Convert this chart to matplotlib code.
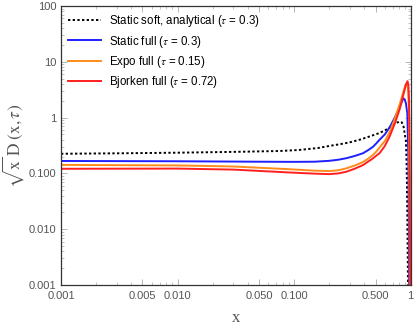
import numpy as np
import matplotlib
matplotlib.use('Agg')
import matplotlib.pyplot as plt
from matplotlib.ticker import FixedLocator, FixedFormatter, LogLocator, NullFormatter

plt.rcParams['font.family'] = ['Liberation Sans', 'DejaVu Sans']
plt.rcParams['mathtext.fontset'] = 'stix'

# static soft, analytical (tau = 0.3)
x_soft = [0.001, 0.003, 0.01, 0.03, 0.075, 0.11, 0.16, 0.2, 0.25, 0.3, 0.37, 0.445, 0.54, 0.6, 0.66, 0.72,
          0.77, 0.805, 0.84, 0.87, 0.89, 0.91, 0.925, 0.935, 0.945, 0.955]
y_soft = [0.225, 0.229, 0.235, 0.243, 0.252, 0.263, 0.285, 0.31, 0.335, 0.36, 0.405, 0.46, 0.53, 0.59,
          0.66, 0.76, 0.82, 0.85, 0.82, 0.68, 0.5, 0.38, 0.12, 0.02, 0.002, 0.0001]

# static full (tau = 0.3)
x_static = [0.001, 0.01, 0.05, 0.1, 0.15, 0.2, 0.24, 0.28, 0.33, 0.39, 0.43, 0.475, 0.51, 0.54, 0.6,
            0.66, 0.73, 0.805, 0.85, 0.87, 0.89, 0.91, 0.935, 0.955, 0.965, 0.975]
y_static = [0.167, 0.165, 0.162, 0.161, 0.162, 0.168, 0.176, 0.187, 0.205, 0.23, 0.26, 0.30, 0.35,
            0.40, 0.50, 0.67, 1.0, 1.55, 2.05, 2.2, 2.1, 1.8, 1.2, 0.2, 0.008, 0.0001]

# expo full (tau = 0.15)
x_expo = [0.001, 0.01, 0.03, 0.09, 0.15, 0.2, 0.24, 0.28, 0.33, 0.39, 0.43, 0.475, 0.51, 0.54, 0.6,
          0.66, 0.73, 0.805, 0.87, 0.9, 0.93, 0.952, 0.967, 0.977, 0.987]
y_expo = [0.142, 0.139, 0.133, 0.119, 0.112, 0.110, 0.114, 0.123, 0.138, 0.16, 0.183, 0.214, 0.25,
          0.29, 0.38, 0.55, 0.95, 1.75, 3.0, 3.8, 4.2, 3.1, 0.9, 0.02, 0.0001]

# bjorken full (tau = 0.72)
x_bj = [0.001, 0.01, 0.03, 0.09, 0.15, 0.2, 0.24, 0.28, 0.33, 0.39, 0.43, 0.475, 0.51, 0.54, 0.6,
        0.66, 0.73, 0.805, 0.87, 0.91, 0.94, 0.955, 0.968, 0.978, 0.986, 0.994]
y_bj = [0.121, 0.122, 0.117, 0.104, 0.099, 0.097, 0.100, 0.107, 0.121, 0.141, 0.162, 0.186, 0.21,
        0.23, 0.31, 0.46, 0.78, 1.42, 2.7, 3.9, 4.5, 3.8, 2.0, 0.3, 0.01, 0.0001]

labels = ['Static soft, analytical ($\\tau$ = 0.3)', 'Static full ($\\tau$ = 0.3)',
          'Expo full ($\\tau$ = 0.15)', 'Bjorken full ($\\tau$ = 0.72)']

xticks = [0.001, 0.005, 0.01, 0.05, 0.1, 0.5, 1]
xticklabels = ['0.001', '0.005', '0.010', '0.050', '0.100', '0.500', '1']
yticks = [0.001, 0.01, 0.1, 1, 10, 100]
yticklabels = ['0.001', '0.010', '0.100', '1', '10', '100']

fig = plt.figure(figsize=(4.15, 3.27), dpi=100)
ax = fig.add_axes([61/415, 1-285/327, (410.7-61)/415, (285-6)/327])

ax.plot(x_soft, y_soft, color='black', lw=1.4, ls=(0, (1.2, 1.2)), label=labels[0])
ax.plot(x_static, y_static, color='#1f1fff', lw=1.4, label=labels[1])
ax.plot(x_expo, y_expo, color='#ff8c1a', lw=1.4, label=labels[2])
ax.plot(x_bj, y_bj, color='#ff1f1f', lw=1.4, label=labels[3])

ax.set_xscale('log')
ax.set_yscale('log')
ax.set_xlim(0.001, 1)
ax.set_ylim(0.001, 100)

ax.xaxis.set_major_locator(FixedLocator(xticks))
ax.xaxis.set_major_formatter(FixedFormatter(xticklabels))
ax.yaxis.set_major_locator(FixedLocator(yticks))
ax.yaxis.set_major_formatter(FixedFormatter(yticklabels))
ax.xaxis.set_minor_locator(LogLocator(base=10, subs=np.arange(2, 10)))
ax.yaxis.set_minor_locator(LogLocator(base=10, subs=np.arange(2, 10)))
ax.xaxis.set_minor_formatter(NullFormatter())
ax.yaxis.set_minor_formatter(NullFormatter())

ax.tick_params(which='both', direction='in', top=True, right=True, color='#aaaaaa', labelcolor='#555555',
               labelsize=8)
ax.tick_params(which='major', length=4, width=0.6)
ax.tick_params(which='minor', length=2, width=0.5)
ax.tick_params(axis='x', pad=4)
for s in ax.spines.values():
    s.set_color('#333333')
    s.set_linewidth(0.9)

ax.set_xlabel('x', family='Liberation Serif', fontsize=12, color='#555555', labelpad=7)
ax.set_ylabel(r'$\sqrt{\mathrm{x}}\;\mathrm{D}\;(\mathrm{x},\tau)$', fontsize=12.5, color='#555555', labelpad=2)

ax.legend(loc='upper left', frameon=False, fontsize=8.3, handlelength=2.8, handletextpad=0.7,
          labelspacing=0.35, borderaxespad=0.25)

fig.savefig('out.png', dpi=100)
